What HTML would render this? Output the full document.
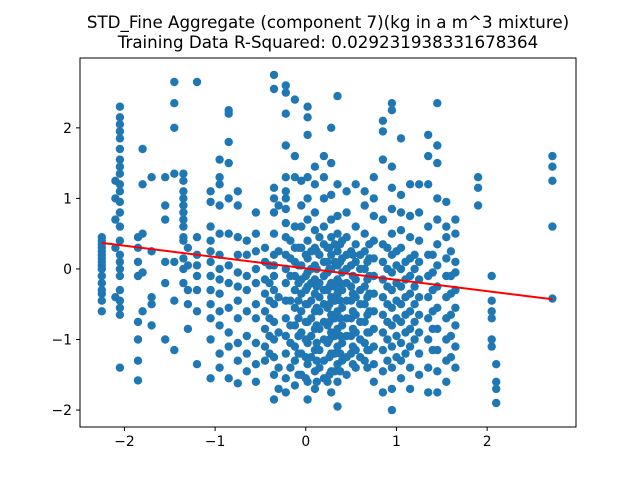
<!DOCTYPE html>
<html><head><meta charset="utf-8"><style>
body{margin:0;background:#fff}
svg{display:block;font-family:"DejaVu Sans","Liberation Sans",sans-serif}
</style></head><body>
<svg id="chart" width="640" height="480" viewBox="0 0 640 480">
<rect width="640" height="480" fill="#fff"/>
<text x="328" y="28" text-anchor="middle" font-size="16.7">STD_Fine Aggregate (component 7)(kg in a m^3 mixture)</text>
<text x="328" y="48" text-anchor="middle" font-size="16.7">Training Data R-Squared: 0.029231938331678364</text>
<g id="points"></g>
<g id="fit"></g>
<rect x="80" y="58" width="496" height="369" fill="none" stroke="#000" stroke-width="1"/>
<g id="axes"></g>
</svg>
<script>
const colX = [-2.25,-2.05,-2.1,-1.85,-1.8,-1.7,-1.55,-1.45,-1.35,-1.3,-1.2,-1.05,-0.95,-0.85,-0.75,-0.65,-0.55,-0.45,-0.35,-0.3,-0.22,-0.12,-0.05,0.02,0.1,0.2,0.28,0.35,0.45,0.55,0.65,0.75,0.85,0.95,1.05,1.15,1.25,1.35,1.45,1.55,1.65,1.9,2.05,2.1,2.72,-0.17,0.06,0.15,0.24,0.32,0.4,0.5,0.6,0.7,0.9,1.0,1.1,1.2,1.4,1.6,-0.08,0.0,0.12,0.26,0.38,0.52,0.68,-0.4];
const colY = [
[-0.6,-0.45,-0.35,-0.3,-0.2,-0.1,0,0.05,0.1,0.15,0.2,0.25,0.3,0.35,0.4,0.45],
[-1.4,-0.65,-0.55,-0.45,-0.3,-0.1,0.0,0.1,0.2,0.4,0.6,0.8,0.95,1.1,1.2,1.35,1.45,1.55,1.7,1.85,1.95,2.05,2.15,2.3],
[-0.4,0.3,0.7,1.0,1.25],
[-1.58,-1.3,-1.0,-0.75,-0.1,0.1,0.3,0.45],
[-0.6,-0.05,0.5,1.2,1.7],
[-0.8,-0.5,-0.4,0.25,1.3],
[-1.0,-0.2,0.1,0.7,0.9,1.3],
[-1.15,-0.45,0.1,1.35,2.0,2.65,2.35],
[-0.2,0,0.15,0.4,0.45,0.6,0.7,0.8,0.9,1.0,1.1,1.25,1.35],
[-0.85,-0.5,-0.3,0.05,0.3],
[-1.35,-0.6,-0.3,-0.1,0.05,0.2,0.45,2.65],
[-1.55,-1.0,-0.7,-0.5,-0.3,-0.1,0.1,0.25,0.4,0.6,0.95,1.1],
[-1.4,-1.2,-0.8,-0.6,-0.35,-0.15,0,0.2,0.5,0.9,1.2,1.3,1.55],
[-1.55,-1.1,-0.9,-0.55,-0.2,0.05,0.5,1.0,1.5,1.8,2.2,2.25],
[-1.62,-1.3,-1.05,-0.7,-0.45,-0.25,-0.05,0.2,0.45,0.9,1.1],
[-1.45,-1.2,-0.95,-0.6,-0.3,-0.1,0.2,0.4],
[-1.6,-1.35,-1.05,-0.7,-0.5,-0.2,0,0.25,0.5,0.8],
[-1.3,-1.1,-0.85,-0.6,-0.35,-0.15,0.1,0.3],
[-1.85,-1.5,-1.25,-1.0,-0.75,-0.5,-0.3,-0.1,0.05,0.2,0.5,0.8,1.0,1.15,2.55,2.75],
[-1.7,-1.4,-0.9,-0.4,0.25,0.9],
[-1.75,-1.55,-1.2,-0.95,-0.7,-0.45,-0.2,0,0.2,0.45,0.65,0.85,1.0,1.1,1.3,1.75,2.2,2.5,2.6],
[-1.65,-1.3,-1.1,-0.8,-0.55,-0.3,-0.1,0.1,0.3,0.6,1.3,1.6,2.4],
[-1.5,-1.2,-0.9,-0.6,-0.35,-0.15,0.05,0.3,0.6,0.9,1.25],
[-1.85,-1.6,-1.35,-1.05,-0.75,-0.5,-0.25,-0.05,0.15,0.4,0.7,1.0,1.3,1.9,2.3,2.15],
[-1.7,-1.45,-1.15,-0.85,-0.6,-0.35,-0.15,0.05,0.3,0.55,0.8,1.2,1.45],
[-1.55,-1.3,-1.0,-0.75,-0.5,-0.3,-0.1,0.1,0.35,0.6,1.0,1.3,1.6],
[-1.75,-1.45,-1.2,-0.9,-0.65,-0.4,-0.2,0,0.2,0.45,0.7,1.05,1.5,2.0],
[-1.95,-1.6,-1.35,-1.1,-0.85,-0.6,-0.35,-0.15,0.05,0.25,0.5,0.75,1.2,2.45],
[-1.5,-1.25,-0.95,-0.7,-0.45,-0.2,0,0.2,0.45,0.8,1.1],
[-1.4,-1.15,-0.9,-0.65,-0.4,-0.15,0.1,0.35,0.6,1.2],
[-1.3,-1.05,-0.75,-0.5,-0.25,0,0.25,0.5,0.9,1.1],
[-1.6,-1.35,-1.1,-0.85,-0.6,-0.35,-0.1,0.15,0.4,0.75,1.0,1.3],
[-1.75,-1.45,-1.15,-0.9,-0.65,-0.4,-0.15,0.1,0.35,0.7,1.55,1.95,2.1],
[-2.0,-1.7,-1.4,-1.1,-0.8,-0.55,-0.3,-0.05,0.2,0.5,0.85,1.15,1.45,2.25,2.35],
[-1.55,-1.3,-1.05,-0.75,-0.5,-0.25,0,0.3,0.55,0.8,1.05,1.85],
[-1.7,-1.4,-1.1,-0.85,-0.6,-0.35,-0.1,0.15,0.45,0.75,1.2],
[-1.5,-1.2,-0.9,-0.65,-0.4,-0.15,0.1,0.4,0.8,1.2],
[-1.75,-1.4,-1.0,-0.7,-0.4,-0.1,0.2,0.6,1.2,1.6,1.9],
[-1.75,-1.45,-1.15,-0.85,-0.55,-0.25,0.05,0.35,0.7,1.0,1.5,1.75,2.35],
[-1.6,-1.3,-1.0,-0.7,-0.4,-0.1,0.15,0.45,0.6,0.95],
[-1.4,-1.1,-0.8,-0.55,-0.3,-0.05,0.1,0.5,0.7],
[0.9,1.15,1.3],
[-1.1,-1.0,-0.7,-0.6,-0.45,-0.1],
[-1.9,-1.7,-1.6,-1.35],
[-0.42,0.6,1.25,1.45,1.6],
[-1.4,-1.05,-0.8,-0.45,-0.1,0.15,0.4],
[-1.25,-0.95,-0.7,-0.45,-0.2,0.0,0.25],
[-1.4,-1.15,-0.85,-0.6,-0.4,-0.2,0.2,0.45],
[-1.6,-1.05,-0.8,-0.55,-0.3,-0.05,0.1,0.3],
[-1.45,-1.2,-0.95,-0.7,-0.45,-0.25,0.1,0.35],
[-1.3,-1.05,-0.8,-0.55,-0.3,-0.05,0.15,0.4],
[-1.2,-0.95,-0.7,-0.45,-0.25,0.05,0.25],
[-1.25,-1.0,-0.75,-0.5,-0.3,0.0,0.2],
[-1.15,-0.9,-0.6,-0.35,-0.1,0.15,0.35],
[-1.3,-1.0,-0.75,-0.5,-0.25,0.0,0.3],
[-1.25,-0.95,-0.7,-0.45,-0.2,0.05,0.25],
[-1.2,-0.9,-0.65,-0.4,-0.15,0.1],
[-1.0,-0.75,-0.5,-0.25,0.0,0.2],
[-1.15,-0.85,-0.6,-0.3,-0.05,0.2],
[-1.25,-0.95,-0.65,-0.35,-0.1,0.25],
[-1.5,-1.2,-0.95,-0.7,-0.45,-0.2,0.05,0.3],
[-1.55,-1.25,-1.0,-0.75,-0.5,-0.3,-0.1,0.2],
[-1.6,-1.3,-1.05,-0.8,-0.55,-0.25,0.0,0.25],
[-1.5,-1.25,-1.0,-0.75,-0.5,-0.25,0.0,0.3],
[-1.45,-1.2,-0.95,-0.7,-0.45,-0.2,0.1,0.35],
[-1.35,-1.1,-0.85,-0.6,-0.35,-0.1,0.2],
[-1.4,-1.15,-0.9,-0.65,-0.4,-0.15,0.1],
[-1.2,-0.95,-0.7,-0.45,-0.2,0.05]
];
const fitX = [-2.25, 2.72];
const fitY = [0.37, -0.43];
const xTicks = [-2,-1,0,1,2];
const yTicks = [-2,-1,0,1,2];

const X0=80,X1=576,Y0=58,Y1=427, XMIN=-2.49, XMAX=2.98, YMIN=-2.24, YMAX=2.99;
const sx = v => X0 + (v-XMIN)/(XMAX-XMIN)*(X1-X0);
const sy = v => Y1 - (v-YMIN)/(YMAX-YMIN)*(Y1-Y0);
const NS="http://www.w3.org/2000/svg";
const pg=document.getElementById('points');
colX.forEach((x,i)=>{
  colY[i].forEach(y=>{
    const c=document.createElementNS(NS,'circle');
    c.setAttribute('cx',sx(x).toFixed(1));
    c.setAttribute('cy',sy(y).toFixed(1));
    c.setAttribute('r','4.2');
    c.setAttribute('fill','#1f77b4');
    
    
    pg.appendChild(c);
  });
});
const fg=document.getElementById('fit');
const ln=document.createElementNS(NS,'line');
ln.setAttribute('x1',sx(fitX[0]));ln.setAttribute('y1',sy(fitY[0]));
ln.setAttribute('x2',sx(fitX[1]));ln.setAttribute('y2',sy(fitY[1]));
ln.setAttribute('stroke','#ff0000');ln.setAttribute('stroke-width','2');


fg.appendChild(ln);
const ag=document.getElementById('axes');
xTicks.forEach(t=>{
  const x=sx(t);
  const l=document.createElementNS(NS,'line');
  l.setAttribute('x1',x);l.setAttribute('x2',x);l.setAttribute('y1',Y1);l.setAttribute('y2',Y1+4);
  l.setAttribute('stroke','#000');
  
  
  ag.appendChild(l);
  const tx=document.createElementNS(NS,'text');
  tx.setAttribute('x',x);tx.setAttribute('y',Y1+19);tx.setAttribute('text-anchor','middle');tx.setAttribute('font-size','13.9');
  tx.textContent=t<0?'\u2212'+(-t):String(t);
  
  
  ag.appendChild(tx);
});
yTicks.forEach(t=>{
  const y=sy(t);
  const l=document.createElementNS(NS,'line');
  l.setAttribute('x1',X0-4);l.setAttribute('x2',X0);l.setAttribute('y1',y);l.setAttribute('y2',y);
  l.setAttribute('stroke','#000');
  
  
  ag.appendChild(l);
  const tx=document.createElementNS(NS,'text');
  tx.setAttribute('x',X0-8);tx.setAttribute('y',y+5);tx.setAttribute('text-anchor','end');tx.setAttribute('font-size','13.9');
  tx.textContent=t<0?'\u2212'+(-t):String(t);
  
  
  ag.appendChild(tx);
});
</script>
</body></html>
